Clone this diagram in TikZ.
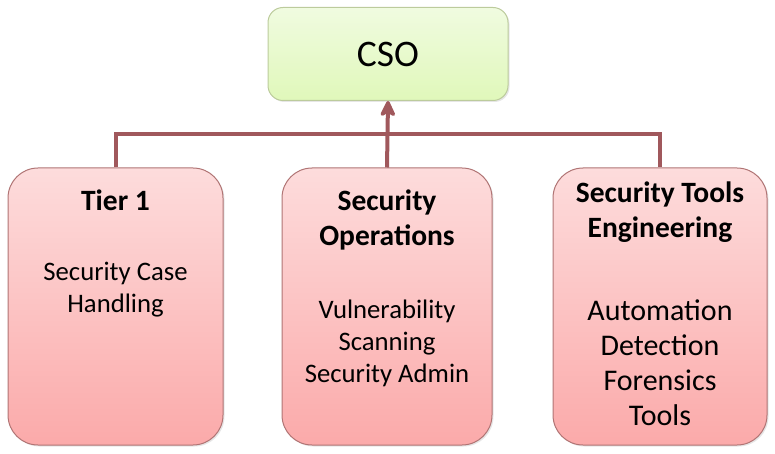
\documentclass[tikz,border=0pt]{standalone}
\usepackage{fontspec}
\setmainfont{Carlito}
\usepackage{tikz}
\usetikzlibrary{arrows.meta,positioning,shadows}
\definecolor{linkred}{HTML}{A0585C}
\definecolor{pinkedge}{HTML}{B07474}
\definecolor{pinktop}{HTML}{FDDCDC}
\definecolor{pinkbot}{HTML}{FBAAAA}
\definecolor{greenedge}{HTML}{BCCB9C}
\definecolor{greentop}{HTML}{F0FBE0}
\definecolor{greenbot}{HTML}{E0F8BA}
\tikzstyle{topbox}=[draw=greenedge,line width=1pt,rounded corners=15pt,
  top color=greentop,bottom color=greenbot,minimum width=240pt,
  minimum height=93pt,inner sep=0pt,
  drop shadow={opacity=0.2,shadow xshift=1.5pt,shadow yshift=-1.5pt},
  font=\fontsize{37.5}{44}\selectfont]
\tikzstyle{unit}=[draw=pinkedge,line width=1pt,rounded corners=30pt,
  top color=pinktop,bottom color=pinkbot,minimum height=277pt,
  drop shadow={opacity=0.2,shadow xshift=1.5pt,shadow yshift=-1.5pt}]
\tikzstyle{title}=[anchor=base,align=center,inner sep=0pt,
  font=\bfseries\fontsize{29.5}{35}\selectfont]
\tikzstyle{duty}=[anchor=base,align=center,inner sep=0pt,
  font=\fontsize{26.7}{32}\selectfont]

\tikzstyle{link}=[draw=linkred,line width=4pt]

\begin{document}
\begin{tikzpicture}[x=1pt,y=-1pt]
  \useasboundingbox (0,0) rectangle (775,454);
  \node[topbox] (cso) at (388,54) {CSO};
  \node[unit,minimum width=215pt] (t1) at (115.5,306.5) {};
  \node[unit,minimum width=210pt] (ops) at (387,306.5) {};
  \node[unit,minimum width=214pt] (eng) at (660,306.5) {};
  % titles and duties (placed by the baseline of their last line)
  \node[title] (t1title) at (115.5,211) {Tier 1};
  \node[title] (opstitle) at (387,245) {Security\\Operations};
  \node[title] (engtitle) at (660,237) {Security Tools\\Engineering};
  \node[duty] (t1duty) at (115.5,312) {Security Case\\Handling};
  \node[duty] (opsduty) at (387,382) {Vulnerability\\Scanning\\Security Admin};
  \node[duty,font=\fontsize{30}{35}\selectfont] (engduty) at (660,425)
    {Automation\\Detection\\Forensics\\Tools};
  % connectors
  \coordinate (bus) at (387,134);
  \draw[link] (t1.north) |- (bus) -| (eng.north);
  \draw[link,-{Stealth[length=20pt,width=19pt,inset=6pt,round]}]
    (ops.north) -- (cso.south);
\end{tikzpicture}
\end{document}
